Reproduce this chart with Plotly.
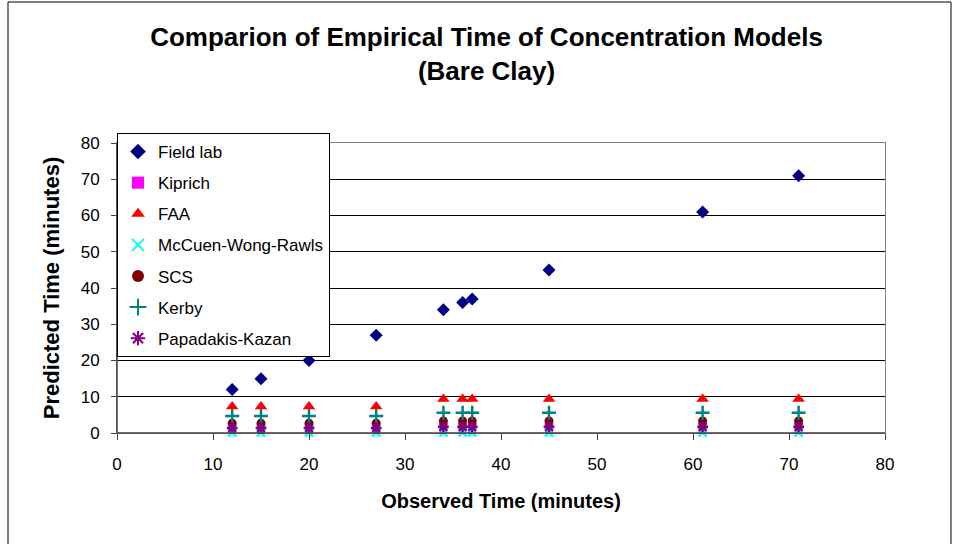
import plotly.graph_objects as go

observed = [12, 15, 20, 27, 34, 36, 37, 45, 61, 71]
field_lab = [12, 15, 20, 27, 34, 36, 37, 45, 61, 71]
kiprich = [1.0, 1.0, 1.0, 1.0, 1.2, 1.2, 1.2, 1.2, 1.2, 1.2]
faa = [7.3, 7.3, 7.3, 7.3, 9.4, 9.4, 9.4, 9.4, 9.4, 9.4]
mccuen = [0.1, 0.1, 0.1, 0.1, 0.1, 0.1, 0.1, 0.1, 0.1, 0.1]
scs = [2.7, 2.7, 2.7, 2.7, 3.3, 3.3, 3.3, 3.3, 3.3, 3.3]
kerby = [4.7, 4.7, 4.7, 4.7, 5.6, 5.6, 5.6, 5.6, 5.6, 5.6]
papadakis = [1.4, 1.4, 1.4, 1.4, 1.7, 1.7, 1.7, 1.7, 1.7, 1.7]

series = [
    ("Field lab", field_lab, "diamond", "#000080", 10),
    ("Kiprich", kiprich, "square", "#FF00FF", 8),
    ("FAA", faa, "triangle-up", "#FF0000", 11),
    ("McCuen-Wong-Rawls", mccuen, "x-thin", "#00FFFF", 8),
    ("SCS", scs, "circle", "#800000", 9),
    ("Kerby", kerby, "cross-thin", "#008080", 10),
    ("Papadakis-Kazan", papadakis, "asterisk", "#800080", 9),
]

FONT = "Liberation Sans, Arial, sans-serif"

fig = go.Figure()
for i, (name, ys, sym, col, sz) in enumerate(series):
    thin = sym in ("x-thin", "cross-thin", "asterisk")
    fig.add_trace(go.Scatter(
        x=observed, y=ys, mode="markers", name=name,
        legendgroup=f"g{i}", cliponaxis=False,
        marker=dict(symbol=sym, color=col, size=sz,
                    line=dict(color=col, width=2.5 if thin else 0)),
    ))

L, R, T, B = 117, 885, 143, 433
W, H = 954, 544
pw, ph = R - L, B - T

def px_x(p):
    return (p - L) / pw

def px_y(p):
    return (B - p) / ph

fig.update_layout(
    width=W, height=H,
    margin=dict(l=L, r=W - R, t=T, b=H - B, pad=0),
    paper_bgcolor="white", plot_bgcolor="white",
    font=dict(family=FONT, color="black", size=17),
    title=dict(
        text="<b>Comparion of Empirical Time of Concentration Models<br>(Bare Clay)</b>",
        x=0.51, xanchor="center", y=1 - 46 / H, yanchor="top",
        font=dict(size=26, family=FONT, color="black"),
    ),
    showlegend=True,
    legend=dict(
        x=0, xanchor="left", y=px_y(133), yanchor="top",
        bgcolor="white", bordercolor="black", borderwidth=1,
        font=dict(size=17, family=FONT, color="black"),
        tracegroupgap=6, traceorder="grouped",
        itemsizing="constant",
    ),
    xaxis=dict(
        range=[0, 80], dtick=10, tick0=0,
        showgrid=False, zeroline=False,
        showline=True, linecolor="#808080", linewidth=1, mirror=True,
        ticks="outside", ticklen=6, tickcolor="#404040",
        tickfont=dict(size=17), ticklabelstandoff=10,
        title=dict(text="<b>Observed Time (minutes)</b>", font=dict(size=20), standoff=20),
    ),
    yaxis=dict(
        range=[0, 80], dtick=10, tick0=0,
        showgrid=True, gridcolor="black", gridwidth=1,
        zeroline=False,
        showline=True, linecolor="#808080", linewidth=1, mirror=True,
        ticks="outside", ticklen=5, tickcolor="#404040",
        tickfont=dict(size=17), ticklabelstandoff=8,
        title=dict(text="<b>Predicted Time (minutes)</b>", font=dict(size=22), standoff=14),
    ),
    shapes=[
        dict(type="rect", xref="paper", yref="paper",
             x0=px_x(8), x1=px_x(951), y0=px_y(560), y1=px_y(2),
             line=dict(color="black", width=1), fillcolor="rgba(0,0,0,0)", layer="below"),
        dict(type="line", xref="paper", yref="paper",
             x0=0, x1=0, y0=0, y1=1, line=dict(color="#404040", width=1.5)),
        dict(type="line", xref="paper", yref="paper",
             x0=0, x1=1, y0=0, y1=0, line=dict(color="#404040", width=1.5)),
    ],
)

fig.write_html("out.html")
